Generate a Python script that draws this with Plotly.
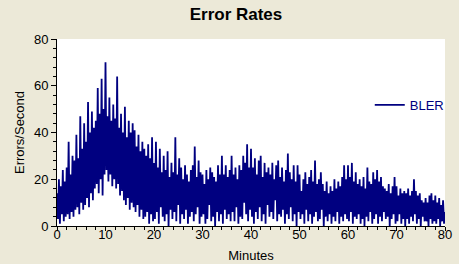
import numpy as np
import plotly.graph_objects as go

# BLER samples: local peaks (at 0, 0.4, 0.8 ... min)
# and local troughs (at 0.2, 0.6, 1.0 ... min)
bler_peaks = [
    14, 20, 17, 24, 19,  25, 36, 22, 30, 28,  39, 29, 47, 33, 44,  36, 53, 40, 49, 42,
    45, 59, 48, 63, 50,  70, 47, 55, 45, 52,  46, 64, 42, 48, 40,  51, 38, 45, 40, 44,
    41, 34, 39, 32, 36,  33, 30, 35, 29, 38,  27, 36, 25, 33, 23,  30, 24, 32, 21, 27,
    23, 38, 22, 29, 25,  20, 26, 22, 19, 24,  26, 34, 21, 28, 23,  22, 18, 24, 20, 25,
    23, 21, 19, 26, 22,  30, 22, 26, 21, 24,  30, 22, 25, 20, 26,  24, 30, 27, 35, 25,
    33, 25, 29, 22, 28,  30, 21, 27, 23, 25,  22, 27, 20, 26, 28,  21, 25, 19, 24, 31,
    23, 20, 26, 19, 26,  22, 15, 20, 23, 18,  21, 24, 19, 28, 18,  20, 23, 18, 15, 19,
    14, 17, 15, 20, 16,  19, 17, 21, 26, 20,  26, 21, 27, 19, 23,  18, 20, 17, 21, 16,
    25, 19, 18, 23, 20,  24, 19, 21, 17, 16,  15, 18, 14, 17, 21,  17, 13, 16, 14, 15,
    14, 16, 13, 15, 20,  15, 13, 14, 11, 10,  12, 10, 13, 14, 11,  13, 10, 12, 9, 11,
    6,
]
bler_troughs = [
    3, 1, 5, 2, 4,  5, 3, 6, 4, 7,  8, 5, 10, 7, 9,  12, 8, 14, 11, 16,
    18, 14, 20, 13, 22,  24, 19, 22, 17, 20,  16, 18, 13, 15, 11,  9, 12, 7, 10, 8,
    6, 9, 4, 7, 3,  4, 6, 1, 5, 2,  3, 6, 1, 8, 4,  2, 5, 0, 7, 3,
    6, 2, 9, 1, 5,  3, 7, 1, 4, 6,  2, 5, 8, 1, 4,  5, 1, 3, 9, 2,
    4, 0, 6, 2, 5,  1, 7, 3, 5, 2,  6, 2, 8, 1, 4,  3, 10, 5, 2, 7,
    4, 1, 6, 3, 8,  2, 5, 1, 9, 4,  6, 3, 11, 2, 5,  4, 7, 1, 5, 3,
    8, 2, 5, 0, 6,  3, 5, 1, 7, 2,  5, 1, 4, 6, 2,  3, 7, 0, 4, 2,
    5, 1, 4, 2, 6,  1, 4, 2, 5, 3,  2, 6, 1, 4, 3,  5, 1, 3, 0, 4,
    2, 6, 1, 3, 5,  1, 4, 2, 6, 3,  4, 0, 3, 5, 1,  2, 5, 1, 3, 0,
    3, 1, 4, 2, 5,  1, 3, 0, 4, 2,  2, 0, 3, 1, 2,  1, 3, 0, 2, 1,
]
sample_step_min = 0.2
x_ticks = [0, 10, 20, 30, 40, 50, 60, 70, 80]
y_ticks = [0, 20, 40, 60, 80]

values = []
for i, p in enumerate(bler_peaks):
    values.append(p)
    if i < len(bler_troughs):
        values.append(bler_troughs[i])
minutes = np.arange(len(values)) * sample_step_min

NAVY = "#000080"
BG = "#ECE9D8"
FONT = "Arial, Liberation Sans, sans-serif"

fig = go.Figure()
fig.add_trace(go.Scatter(
    x=minutes, y=values, mode="lines", name="BLER",
    line=dict(color=NAVY, width=1.8),
))

fig.update_layout(
    width=459, height=264,
    margin=dict(l=57, r=10, t=39, b=38),
    paper_bgcolor=BG, plot_bgcolor="white",
    font=dict(family=FONT, size=13, color="black"),
    title=dict(text="<b>Error Rates</b>", x=236 / 459, xanchor="center",
               y=1 - 14 / 264, yanchor="middle",
               font=dict(size=17, family=FONT, color="black")),
    showlegend=True,
    legend=dict(x=370 / 459, xanchor="left", y=1 - 93 / 264, yanchor="middle",
                bgcolor="rgba(0,0,0,0)", font=dict(color=NAVY, size=13),
                borderwidth=0),
)
fig.update_xaxes(
    range=[0, 80], tickvals=x_ticks, showgrid=False, zeroline=False,
    showline=True, linecolor="black", linewidth=1, automargin=False,
    ticks="outside", ticklen=4, tickcolor="black",
    minor=dict(dtick=2, ticks="outside", ticklen=3, tickcolor="black", showgrid=False),
    ticklabelstandoff=-8,
    title=dict(text="Minutes", standoff=10, font=dict(size=13)),
    tickfont=dict(size=13),
)
fig.update_yaxes(
    range=[0, 80], tickvals=y_ticks, showgrid=False, zeroline=False,
    showline=True, linecolor="black", linewidth=1, automargin=False,
    ticks="outside", ticklen=5, tickcolor="black",
    minor=dict(dtick=4, ticks="outside", ticklen=3, tickcolor="black", showgrid=False),
    title=dict(text="Errors/Second", standoff=6, font=dict(size=13)),
    tickfont=dict(size=13),
)

fig.write_html("out.html")
